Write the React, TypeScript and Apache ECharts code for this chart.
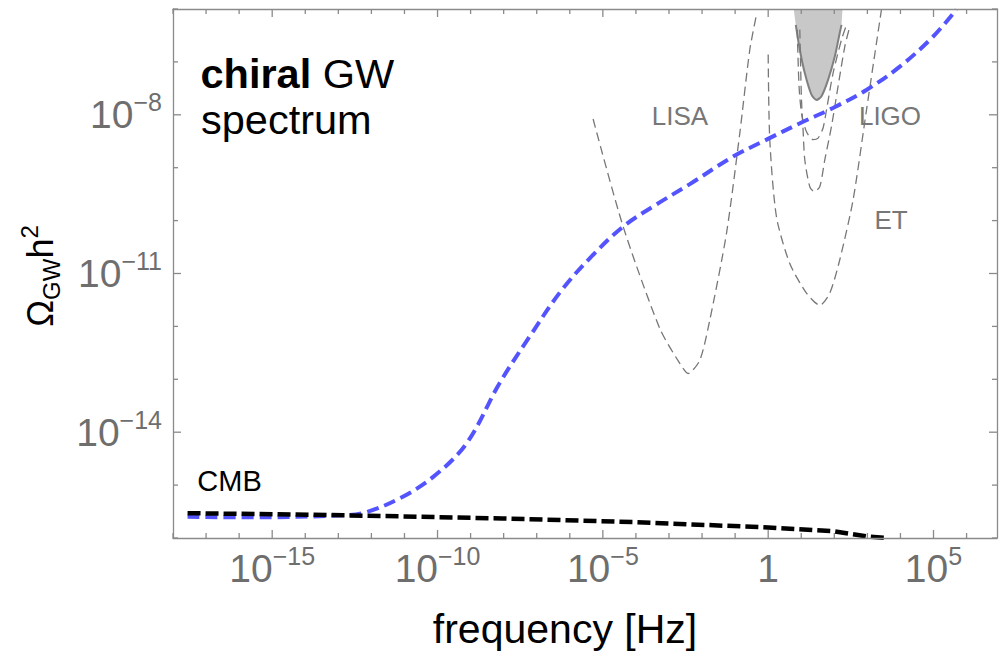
import React, { useEffect, useRef } from 'react';
import * as echarts from 'echarts';

const FONT = "'Liberation Sans', Arial, Helvetica, sans-serif";

// axis ranges (log10 of frequency in Hz, log10 of Omega_GW h^2)
const X_MIN = -18;
const X_MAX = 6.92;
const Y_MIN = -16;
const Y_MAX = -6;
const X_TICK_EXPS = [-18, -17, -16, -15, -14, -13, -12, -11, -10, -9, -8, -7, -6, -5, -4, -3, -2, -1, 0, 1, 2, 3, 4, 5, 6];
const Y_TICK_EXPS = [-16, -15, -14, -13, -12, -11, -10, -9, -8, -7, -6];
const X_LABEL_EXPS = [-15, -10, -5, 0, 5];
const Y_LABEL_EXPS = [-14, -11, -8];

// chiral GW spectrum (blue dashed)
const chiralX = [-17.56, -15.68, -12.86, -12.15, -11.14, -10.14, -9.12, -8.12, -7.18, -6.24, -5.3, -4.36, -3.42, -2.37, -1.06, -0.05, 0.96, 1.96, 2.97, 3.98, 4.99, 5.69];
const chiralY = [-15.6, -15.61, -15.57, -15.51, -15.25, -14.85, -14.21, -13.07, -12.16, -11.31, -10.65, -10.1, -9.71, -9.31, -8.79, -8.47, -8.16, -7.87, -7.53, -7.09, -6.52, -6.01];

// CMB (black dashed)
const cmbX = [-17.56, -12.86, -8.03, -4.09, 0.0, 1.95, 2.97, 3.58];
const cmbY = [-15.53, -15.57, -15.63, -15.7, -15.8, -15.87, -15.97, -16.0];

// LISA sensitivity
const lisaX = [-5.295, -4.388, -3.278, -2.673, -2.422, -2.068, -1.766, -1.261, -0.859, -0.556, -0.354];
const lisaY = [-8.08, -10.11, -12.04, -12.7, -12.89, -12.64, -11.88, -10.24, -8.35, -6.77, -6.11];

// ET sensitivity
const etX = [0.0, 0.048, 0.251, 0.653, 1.158, 1.56, 1.863, 2.165, 2.567, 2.973, 3.275, 3.426];
const etY = [-6.86, -8.47, -9.93, -10.81, -11.37, -11.6, -11.37, -10.74, -9.61, -7.91, -6.64, -6.01];

// LIGO design curves
const ligoAX = [0.88, 0.904, 0.94, 1.016, 1.158, 1.358, 1.509, 1.66, 1.763, 1.963, 2.217, 2.368];
const ligoAY = [-6.39, -6.96, -7.53, -8.0, -8.32, -8.47, -8.44, -8.25, -7.91, -7.21, -6.58, -6.3];
const ligoBX = [0.956, 0.977, 1.007, 1.055, 1.107, 1.258, 1.388, 1.56, 1.712, 1.914, 2.114, 2.317, 2.468];
const ligoBY = [-6.39, -6.96, -7.72, -8.28, -8.85, -9.36, -9.45, -9.36, -8.85, -8.22, -7.46, -6.71, -6.33];

// LIGO excluded region (shaded)
const ligoOX = [0.835, 0.956, 1.107, 1.309, 1.461, 1.612, 1.811, 2.014, 2.165, 2.217];
const ligoOY = [-6.3, -6.77, -7.21, -7.62, -7.72, -7.65, -7.34, -6.9, -6.45, -6.3];
const ligoFillX = [0.774, 0.835, 0.956, 1.107, 1.309, 1.461, 1.612, 1.811, 2.014, 2.165, 2.217, 2.247];
const ligoFillY = [-6.0, -6.3, -6.77, -7.21, -7.62, -7.72, -7.65, -7.34, -6.9, -6.45, -6.3, -6.0];

const pairs = (xs: number[], ys: number[]) => xs.map((x, i) => [x, ys[i]]);

const AXIS_COLOR = '#8a8a8a';
const LABEL_COLOR = '#6e6e6e';

const labelRich = {
  b: { fontSize: 39, fontFamily: FONT, color: LABEL_COLOR, lineHeight: 50 },
  s: { fontSize: 25, fontFamily: FONT, color: LABEL_COLOR, lineHeight: 25, padding: [0, 0, 25, 0] },
};

const powLabel = (v: number) => {
  const r = Math.round(v);
  if (r === 0) return '{b|1}';
  return `{b|10}{s|${r < 0 ? '\u2212' : ''}${Math.abs(r)}}`;
};

export default function App() {
  const ref = useRef<HTMLDivElement>(null);
  useEffect(() => {
    if (!ref.current) return;
    const chart = echarts.init(ref.current, undefined, { renderer: 'svg' });
    const lineOn = { show: true, onZero: false, lineStyle: { color: AXIS_COLOR, width: 1.3 } };
    const xBase = { type: 'value', min: X_MIN, max: X_MAX, splitLine: { show: false }, axisTick: { show: false }, z: 10 };
    const yBase = { type: 'value', min: Y_MIN, max: Y_MAX, splitLine: { show: false }, axisTick: { show: false }, z: 10 };
    const detector = (data: number[][]) => ({
      type: 'line',
      data,
      symbol: 'none',
      smooth: 0.25,
      silent: true,
      z: 2,
      lineStyle: { color: '#777777', width: 1.3, type: [9, 5] },
    });
    const tickStyle = { stroke: AXIS_COLOR, lineWidth: 1.3 };
    chart.setOption({
      animation: false,
      backgroundColor: '#ffffff',
      grid: { left: 173, right: 2, top: 9, bottom: 113, containLabel: false, outerBoundsMode: 'none' },
      xAxis: [
        {
          ...xBase,
          position: 'bottom',
          axisLine: lineOn,
          axisLabel: {
            show: true,
            customValues: X_LABEL_EXPS,
            margin: 5,
            formatter: (v: number) => (Math.round(v) % 5 === 0 ? powLabel(v) : ''),
            rich: labelRich,
          },
        },
        { ...xBase, position: 'top', axisLine: lineOn, axisLabel: { show: false } },
      ],
      yAxis: [
        {
          ...yBase,
          position: 'left',
          axisLine: lineOn,
          axisLabel: {
            show: true,
            customValues: Y_LABEL_EXPS,
            margin: 11,
            formatter: (v: number) => ((((Math.round(v) % 3) + 3) % 3) === 1 ? powLabel(v) : ''),
            rich: labelRich,
          },
        },
        { ...yBase, position: 'right', axisLine: lineOn, axisLabel: { show: false } },
      ],
      series: [
        {
          type: 'line',
          data: pairs(ligoFillX, ligoFillY),
          symbol: 'none',
          smooth: 0.25,
          silent: true,
          z: 1,
          lineStyle: { width: 0, opacity: 0 },
          areaStyle: { color: '#c8c8c8', opacity: 1, origin: 'end' },
        },
        {
          type: 'line',
          data: pairs(ligoOX, ligoOY),
          symbol: 'none',
          smooth: 0.25,
          silent: true,
          z: 2,
          lineStyle: { color: '#808080', width: 2 },
        },
        detector(pairs(ligoAX, ligoAY)),
        detector(pairs(ligoBX, ligoBY)),
        detector(pairs(etX, etY)),
        detector(pairs(lisaX, lisaY)),
        {
          type: 'line',
          data: pairs(chiralX, chiralY),
          symbol: 'none',
          smooth: 0.35,
          silent: true,
          z: 3,
          lineStyle: { color: '#5454ff', width: 4, type: [12, 6], cap: 'butt' },
        },
        {
          type: 'line',
          data: pairs(cmbX, cmbY),
          symbol: 'none',
          silent: true,
          z: 4,
          lineStyle: { color: '#000000', width: 4.5, type: [13, 5], cap: 'butt' },
        },
        // frame ticks along the frequency axis (bottom and top)
        {
          type: 'custom',
          silent: true,
          clip: false,
          z: 11,
          data: X_TICK_EXPS.map((v) => [v, Y_MIN + 0.5]),
          renderItem: (_p: any, api: any) => {
            const v = api.value(0);
            const len = X_LABEL_EXPS.includes(Math.round(v)) ? 8 : 5;
            const b = api.coord([v, Y_MIN]);
            const t = api.coord([v, Y_MAX]);
            return {
              type: 'group',
              children: [
                { type: 'line', shape: { x1: b[0], y1: b[1], x2: b[0], y2: b[1] - len }, style: tickStyle },
                { type: 'line', shape: { x1: t[0], y1: t[1], x2: t[0], y2: t[1] + len }, style: tickStyle },
              ],
            };
          },
        },
        // frame ticks along the Omega axis (left and right)
        {
          type: 'custom',
          silent: true,
          clip: false,
          z: 11,
          data: Y_TICK_EXPS.map((v) => [X_MIN + 0.5, v]),
          renderItem: (_p: any, api: any) => {
            const v = api.value(1);
            const len = Y_LABEL_EXPS.includes(Math.round(v)) ? 8 : 5;
            const l = api.coord([X_MIN, v]);
            const r = api.coord([X_MAX, v]);
            return {
              type: 'group',
              children: [
                { type: 'line', shape: { x1: l[0], y1: l[1], x2: l[0] + len, y2: l[1] }, style: tickStyle },
                { type: 'line', shape: { x1: r[0], y1: r[1], x2: r[0] - len, y2: r[1] }, style: tickStyle },
              ],
            };
          },
        },
      ],
      graphic: [
        {
          type: 'text',
          x: 200.5,
          y: 73,
          style: {
            text: '{b|chiral} GW',
            fontSize: 41.5,
            fontFamily: FONT,
            fill: '#000',
            align: 'left',
            textAlign: 'left',
            verticalAlign: 'middle',
            textVerticalAlign: 'middle',
            rich: { b: { fontSize: 41.5, fontFamily: FONT, fontWeight: 'bold', fill: '#000' } },
          },
        },
        {
          type: 'text',
          x: 201,
          y: 119,
          style: {
            text: 'spectrum',
            fontSize: 41.5,
            fontFamily: FONT,
            fill: '#000',
            align: 'left',
            textAlign: 'left',
            verticalAlign: 'middle',
            textVerticalAlign: 'middle',
          },
        },
        ...[
          { t: 'LISA', x: 680, y: 115.5 },
          { t: 'LIGO', x: 890, y: 115.5 },
          { t: 'ET', x: 891, y: 220.3 },
        ].map((d) => ({
          type: 'text',
          x: d.x,
          y: d.y,
          style: {
            text: d.t,
            fontSize: 26,
            fontFamily: FONT,
            fill: '#777777',
            align: 'center',
            textAlign: 'center',
            verticalAlign: 'middle',
            textVerticalAlign: 'middle',
          },
        })),
        {
          type: 'text',
          x: 229.5,
          y: 480.7,
          style: {
            text: 'CMB',
            fontSize: 29,
            fontFamily: FONT,
            fill: '#000',
            align: 'center',
            textAlign: 'center',
            verticalAlign: 'middle',
            textVerticalAlign: 'middle',
          },
        },
        {
          type: 'text',
          x: 565,
          y: 629,
          style: {
            text: 'frequency [Hz]',
            fontSize: 41,
            fontFamily: FONT,
            fill: '#000',
            align: 'center',
            textAlign: 'center',
            verticalAlign: 'middle',
            textVerticalAlign: 'middle',
          },
        },
        {
          type: 'text',
          x: 40.5,
          y: 276,
          rotation: Math.PI / 2,
          style: {
            text: '{o|\u03A9}{g|GW}{o|h}{p|2}',
            fontSize: 36,
            fontFamily: FONT,
            fill: '#000',
            align: 'center',
            textAlign: 'center',
            verticalAlign: 'middle',
            textVerticalAlign: 'middle',
            rich: {
              o: { fontSize: 36, fontFamily: FONT, fill: '#000', lineHeight: 46 },
              g: { fontSize: 24, fontFamily: FONT, fill: '#000', lineHeight: 24, padding: [22, 0, 0, 0] },
              p: { fontSize: 24, fontFamily: FONT, fill: '#000', lineHeight: 24, padding: [0, 0, 22, 0] },
            },
          },
        },
      ],
    });
    return () => chart.dispose();
  }, []);
  return <div ref={ref} style={{ position: 'fixed', left: 0, top: 0, width: 999, height: 651 }} />;
}
